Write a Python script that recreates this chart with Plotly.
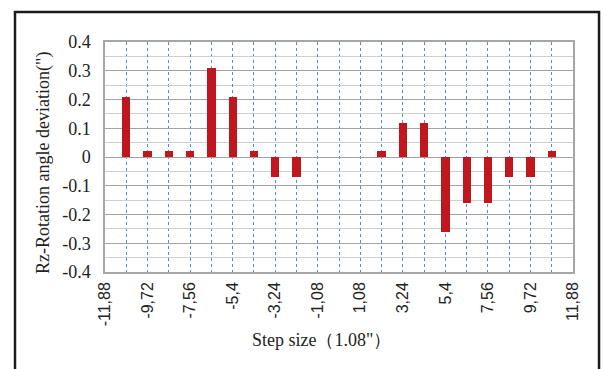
import numpy as np
import plotly.graph_objects as go

# Step positions (multiples of the 1.08" step) and measured Rz deviation
step_positions = [-10.8, -9.72, -8.64, -7.56, -6.48, -5.4, -4.32, -3.24, -2.16, -1.08,
                  0.0, 1.08, 2.16, 3.24, 4.32, 5.4, 6.48, 7.56, 8.64, 9.72, 10.8]
rz_deviation = [0.21, 0.02, 0.02, 0.02, 0.31, 0.21, 0.02, -0.07, -0.07, 0.0,
                0.0, 0.0, 0.02, 0.12, 0.12, -0.26, -0.16, -0.16, -0.07, -0.07, 0.02]

x_tick_values = [-11.88, -9.72, -7.56, -5.4, -3.24, -1.08, 1.08, 3.24, 5.4, 7.56, 9.72, 11.88]
x_tick_labels = ["-11,88", "-9,72", "-7,56", "-5,4", "-3,24", "-1,08",
                 "1,08", "3,24", "5,4", "7,56", "9,72", "11,88"]
y_tick_values = [0.4, 0.3, 0.2, 0.1, 0.0, -0.1, -0.2, -0.3, -0.4]
y_tick_labels = ["0.4", "0.3", "0.2", "0.1", "0", "-0.1", "-0.2", "-0.3", "-0.4"]

BAR_RED = "#c0161e"
DASH_BLUE = "#5b8ad6"
SERIF = "Liberation Serif, Times New Roman, serif"

fig = go.Figure()
fig.add_trace(go.Bar(
    x=step_positions,
    y=rz_deviation,
    width=0.42,
    marker=dict(color=BAR_RED, line=dict(width=0)),
))

fig.update_layout(
    width=603,
    height=369,
    margin=dict(l=105, r=30, t=42, b=97),
    paper_bgcolor="white",
    plot_bgcolor="white",
    showlegend=False,
    bargap=0,
    xaxis=dict(
        range=[-11.88, 11.88],
        tickmode="array",
        tickvals=x_tick_values,
        ticktext=x_tick_labels,
        tickangle=-90,
        tickfont=dict(family="Liberation Sans, Arial, sans-serif", size=16, color="#222"),
        ticks="",
        ticklabelstandoff=2,
        showgrid=True,
        gridcolor=DASH_BLUE,
        griddash="3px,3px",
        gridwidth=1,
        minor=dict(tick0=0, dtick=1.08, showgrid=True, gridcolor=DASH_BLUE,
                   griddash="3px,3px", gridwidth=1, ticks=""),
        showline=True,
        linecolor="#a6a6a6",
        linewidth=1.5,
        mirror=True,
        zeroline=False,
    ),
    yaxis=dict(
        range=[-0.4, 0.4],
        tickmode="array",
        tickvals=y_tick_values,
        ticktext=y_tick_labels,
        tickfont=dict(family=SERIF, size=18, color="#222"),
        ticks="",
        ticklabelstandoff=9,
        showgrid=True,
        gridcolor="#a3a3a3",
        gridwidth=1.3,
        minor=dict(dtick=0.05, showgrid=True, gridcolor="#cfcfcf", gridwidth=1, ticks=""),
        showline=True,
        linecolor="#a6a6a6",
        linewidth=1.5,
        mirror=True,
        zeroline=False,
    ),
    annotations=[
        dict(text="Rz-Rotation angle deviation(\")", xref="paper", yref="paper",
             x=-0.13, y=0.475, textangle=-90, showarrow=False,
             font=dict(family=SERIF, size=18, color="#222"), xanchor="center", yanchor="middle"),
        dict(text="Step size（1.08\"）", xref="paper", yref="paper",
             x=0.462, y=-0.296, showarrow=False,
             font=dict(family=SERIF, size=18, color="#222"), xanchor="center", yanchor="middle"),
    ],
    shapes=[
        dict(type="rect", xref="paper", yref="paper",
             x0=-0.1923, x1=1.0556, y0=-0.5, y1=1.1304,
             line=dict(color="#1a1a1a", width=2.5), fillcolor="rgba(0,0,0,0)", layer="above"),
    ],
)

fig.write_html("out.html")
